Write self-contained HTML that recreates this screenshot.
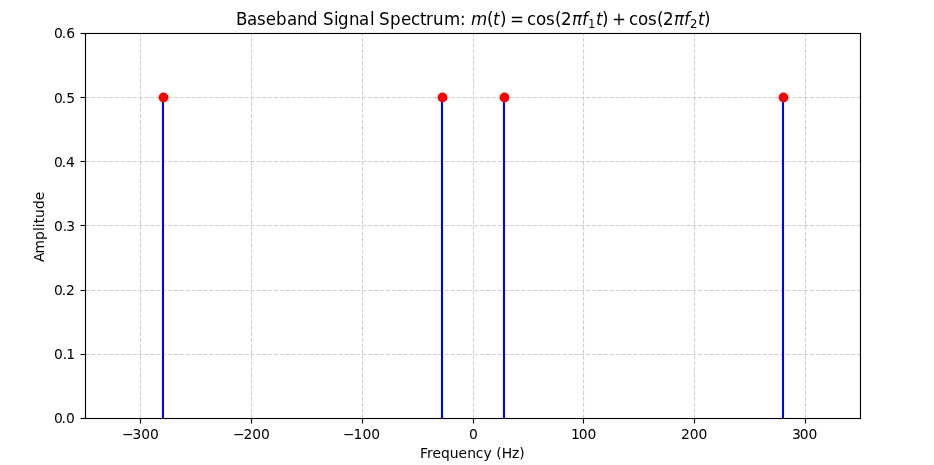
<!DOCTYPE html>
<html lang="en">
<head>
<meta charset="utf-8">
<title>Baseband Signal Spectrum</title>
<style>
  html, body { margin: 0; padding: 0; background: #ffffff; overflow: hidden; }
  body { width: 934px; height: 465px; overflow: hidden; }
  svg { display: block; will-change: transform; }
  text { font-family: "DejaVu Sans", "Liberation Sans", sans-serif; fill: #000000; white-space: pre; }
  .t10 { font-size: 13.889px; }
  .t12 { font-size: 17.0px; }
  .sub { font-size: 11.9px; }
  .it  { font-style: oblique; }
  .grid line { stroke: #b0b0b0; stroke-opacity: 0.6; stroke-width: 1.111; stroke-dasharray: 4.111 1.778; fill: none; }
  .stems line { stroke: #0000ff; stroke-width: 2.083; }
  .marks circle { fill: #ff0000; }
  .ticks line, .spines rect { stroke: #000000; stroke-width: 1.111; fill: none; }
</style>
</head>
<body>
<svg width="934" height="465" viewBox="0 0 934 465">
  <defs><clipPath id="axclip"><rect x="85.5" y="33.5" width="775" height="385"/></clipPath></defs>
  <rect x="0" y="0" width="934" height="465" fill="#ffffff"/>
  <!-- dashed grid (matplotlib "--", #b0b0b0 @ 0.6) -->
  <g class="grid" clip-path="url(#axclip)">
    <line x1="140.5" y1="418.5" x2="140.5" y2="33.5"/>
    <line x1="251.5" y1="418.5" x2="251.5" y2="33.5"/>
    <line x1="362.5" y1="418.5" x2="362.5" y2="33.5"/>
    <line x1="473.5" y1="418.5" x2="473.5" y2="33.5"/>
    <line x1="583.5" y1="418.5" x2="583.5" y2="33.5"/>
    <line x1="694.5" y1="418.5" x2="694.5" y2="33.5"/>
    <line x1="805.5" y1="418.5" x2="805.5" y2="33.5"/>
    <line x1="85.5" y1="33.5" x2="860.5" y2="33.5"/>
    <line x1="85.5" y1="97.5" x2="860.5" y2="97.5"/>
    <line x1="85.5" y1="161.5" x2="860.5" y2="161.5"/>
    <line x1="85.5" y1="225.5" x2="860.5" y2="225.5"/>
    <line x1="85.5" y1="290.5" x2="860.5" y2="290.5"/>
    <line x1="85.5" y1="354.5" x2="860.5" y2="354.5"/>
    <line x1="85.5" y1="418.5" x2="860.5" y2="418.5"/>
  </g>
  <!-- stem lines -->
  <g class="stems" clip-path="url(#axclip)">
    <line x1="163.0" y1="418.5" x2="163.0" y2="97.5"/>
    <line x1="442.0" y1="418.5" x2="442.0" y2="97.5"/>
    <line x1="504.0" y1="418.5" x2="504.0" y2="97.5"/>
    <line x1="783.0" y1="418.5" x2="783.0" y2="97.5"/>
  </g>
  <!-- stem markers -->
  <g class="marks">
    <circle cx="163.5" cy="97.5" r="4.9"/>
    <circle cx="442.5" cy="97.5" r="4.9"/>
    <circle cx="504.5" cy="97.5" r="4.9"/>
    <circle cx="783.5" cy="97.5" r="4.9"/>
  </g>
  <!-- tick marks -->
  <g class="ticks">
    <line x1="140.5" y1="418.5" x2="140.5" y2="423.5"/>
    <line x1="251.5" y1="418.5" x2="251.5" y2="423.5"/>
    <line x1="362.5" y1="418.5" x2="362.5" y2="423.5"/>
    <line x1="473.5" y1="418.5" x2="473.5" y2="423.5"/>
    <line x1="583.5" y1="418.5" x2="583.5" y2="423.5"/>
    <line x1="694.5" y1="418.5" x2="694.5" y2="423.5"/>
    <line x1="805.5" y1="418.5" x2="805.5" y2="423.5"/>
    <line x1="85.5" y1="33.5" x2="80.5" y2="33.5"/>
    <line x1="85.5" y1="97.5" x2="80.5" y2="97.5"/>
    <line x1="85.5" y1="161.5" x2="80.5" y2="161.5"/>
    <line x1="85.5" y1="225.5" x2="80.5" y2="225.5"/>
    <line x1="85.5" y1="290.5" x2="80.5" y2="290.5"/>
    <line x1="85.5" y1="354.5" x2="80.5" y2="354.5"/>
    <line x1="85.5" y1="418.5" x2="80.5" y2="418.5"/>
  </g>
  <!-- axes frame -->
  <g class="spines"><rect x="85.5" y="33.5" width="775" height="385"/></g>
  <!-- tick labels, axis labels -->
  <g class="t10">
    <text x="122.05 132.43 141.26 150.07" y="439">−300</text>
    <text x="233.02 243.39 252.22 261.03" y="439">−200</text>
    <text x="342.98 353.61 362.43 371.25" y="439">−100</text>
    <text x="469.09" y="439">0</text>
    <text x="570.97 578.78 587.61" y="439">100</text>
    <text x="680.94 689.75 698.58" y="439">200</text>
    <text x="791.9 799.71 808.54" y="439">300</text>
    <text x="419.93 426.9 432.54 441.09 449.63 458.43 467.21 475.76 483.38 491.85 496.26 501.68 512.1 519.13" y="458">Frequency (Hz)</text>
    <text x="8.19 16.68 30.19 39.25 43.1 46.96 52.14 61.19 70" y="226.5" transform="rotate(-90 43.746 226.500)">Amplitude</text>
    <text x="53.92 61.73 66.16" y="38">0.6</text>
    <text x="53.92 61.73 66.16" y="103">0.5</text>
    <text x="53.92 61.73 65.91" y="167">0.4</text>
    <text x="53.92 62.73 66.16" y="231">0.3</text>
    <text x="53.92 61.73 65.91" y="295">0.2</text>
    <text x="53.92 62.73 66.16" y="359">0.1</text>
    <text x="53.92 61.48 65.91" y="423">0.0</text>
  </g>
  <!-- title (matplotlib mathtext layout) -->
  <g class="t12" transform="translate(235.083 25.000) scale(0.98039 1)">
    <text><tspan x="1.01 12.15 22.32 31.17 41.63 52.93 63.09 73.35" y="0">Baseband</tspan> <tspan x="89.57 100.85 105.07 116.11 126.39 137.55" y="0">Signal</tspan> <tspan x="146.7 157.98 169.27 179.46 188.57 194.73 201.97 212.98 229.53" y="0">Spectrum:</tspan> <tspan x="240.61" y="0" class="it">m</tspan><tspan x="256.91" y="0">(</tspan><tspan x="263.04" y="0" class="it">t</tspan><tspan x="270.21" y="0">)</tspan> <tspan x="280.41" y="0">=</tspan> <tspan x="297.71 307.05 317.2 326.3 332.43" y="0">cos(2</tspan><tspan x="343.76" y="0" class="it">π</tspan><tspan x="353.74" y="0" class="it">f</tspan><tspan x="359.98" y="2.73" class="sub">1</tspan><tspan x="368.02" y="0" class="it">t</tspan><tspan x="374.17" y="0">)</tspan> <tspan x="384.37" y="0">+</tspan> <tspan x="401.68 411.02 421.17 430.27 436.39" y="0">cos(2</tspan><tspan x="447.73" y="0" class="it">π</tspan><tspan x="457.96" y="0" class="it">f</tspan><tspan x="463.95" y="2.73" class="sub">2</tspan><tspan x="472.24" y="0" class="it">t</tspan><tspan x="478.39" y="0">)</tspan></text>
  </g>
</svg>
</body>
</html>
